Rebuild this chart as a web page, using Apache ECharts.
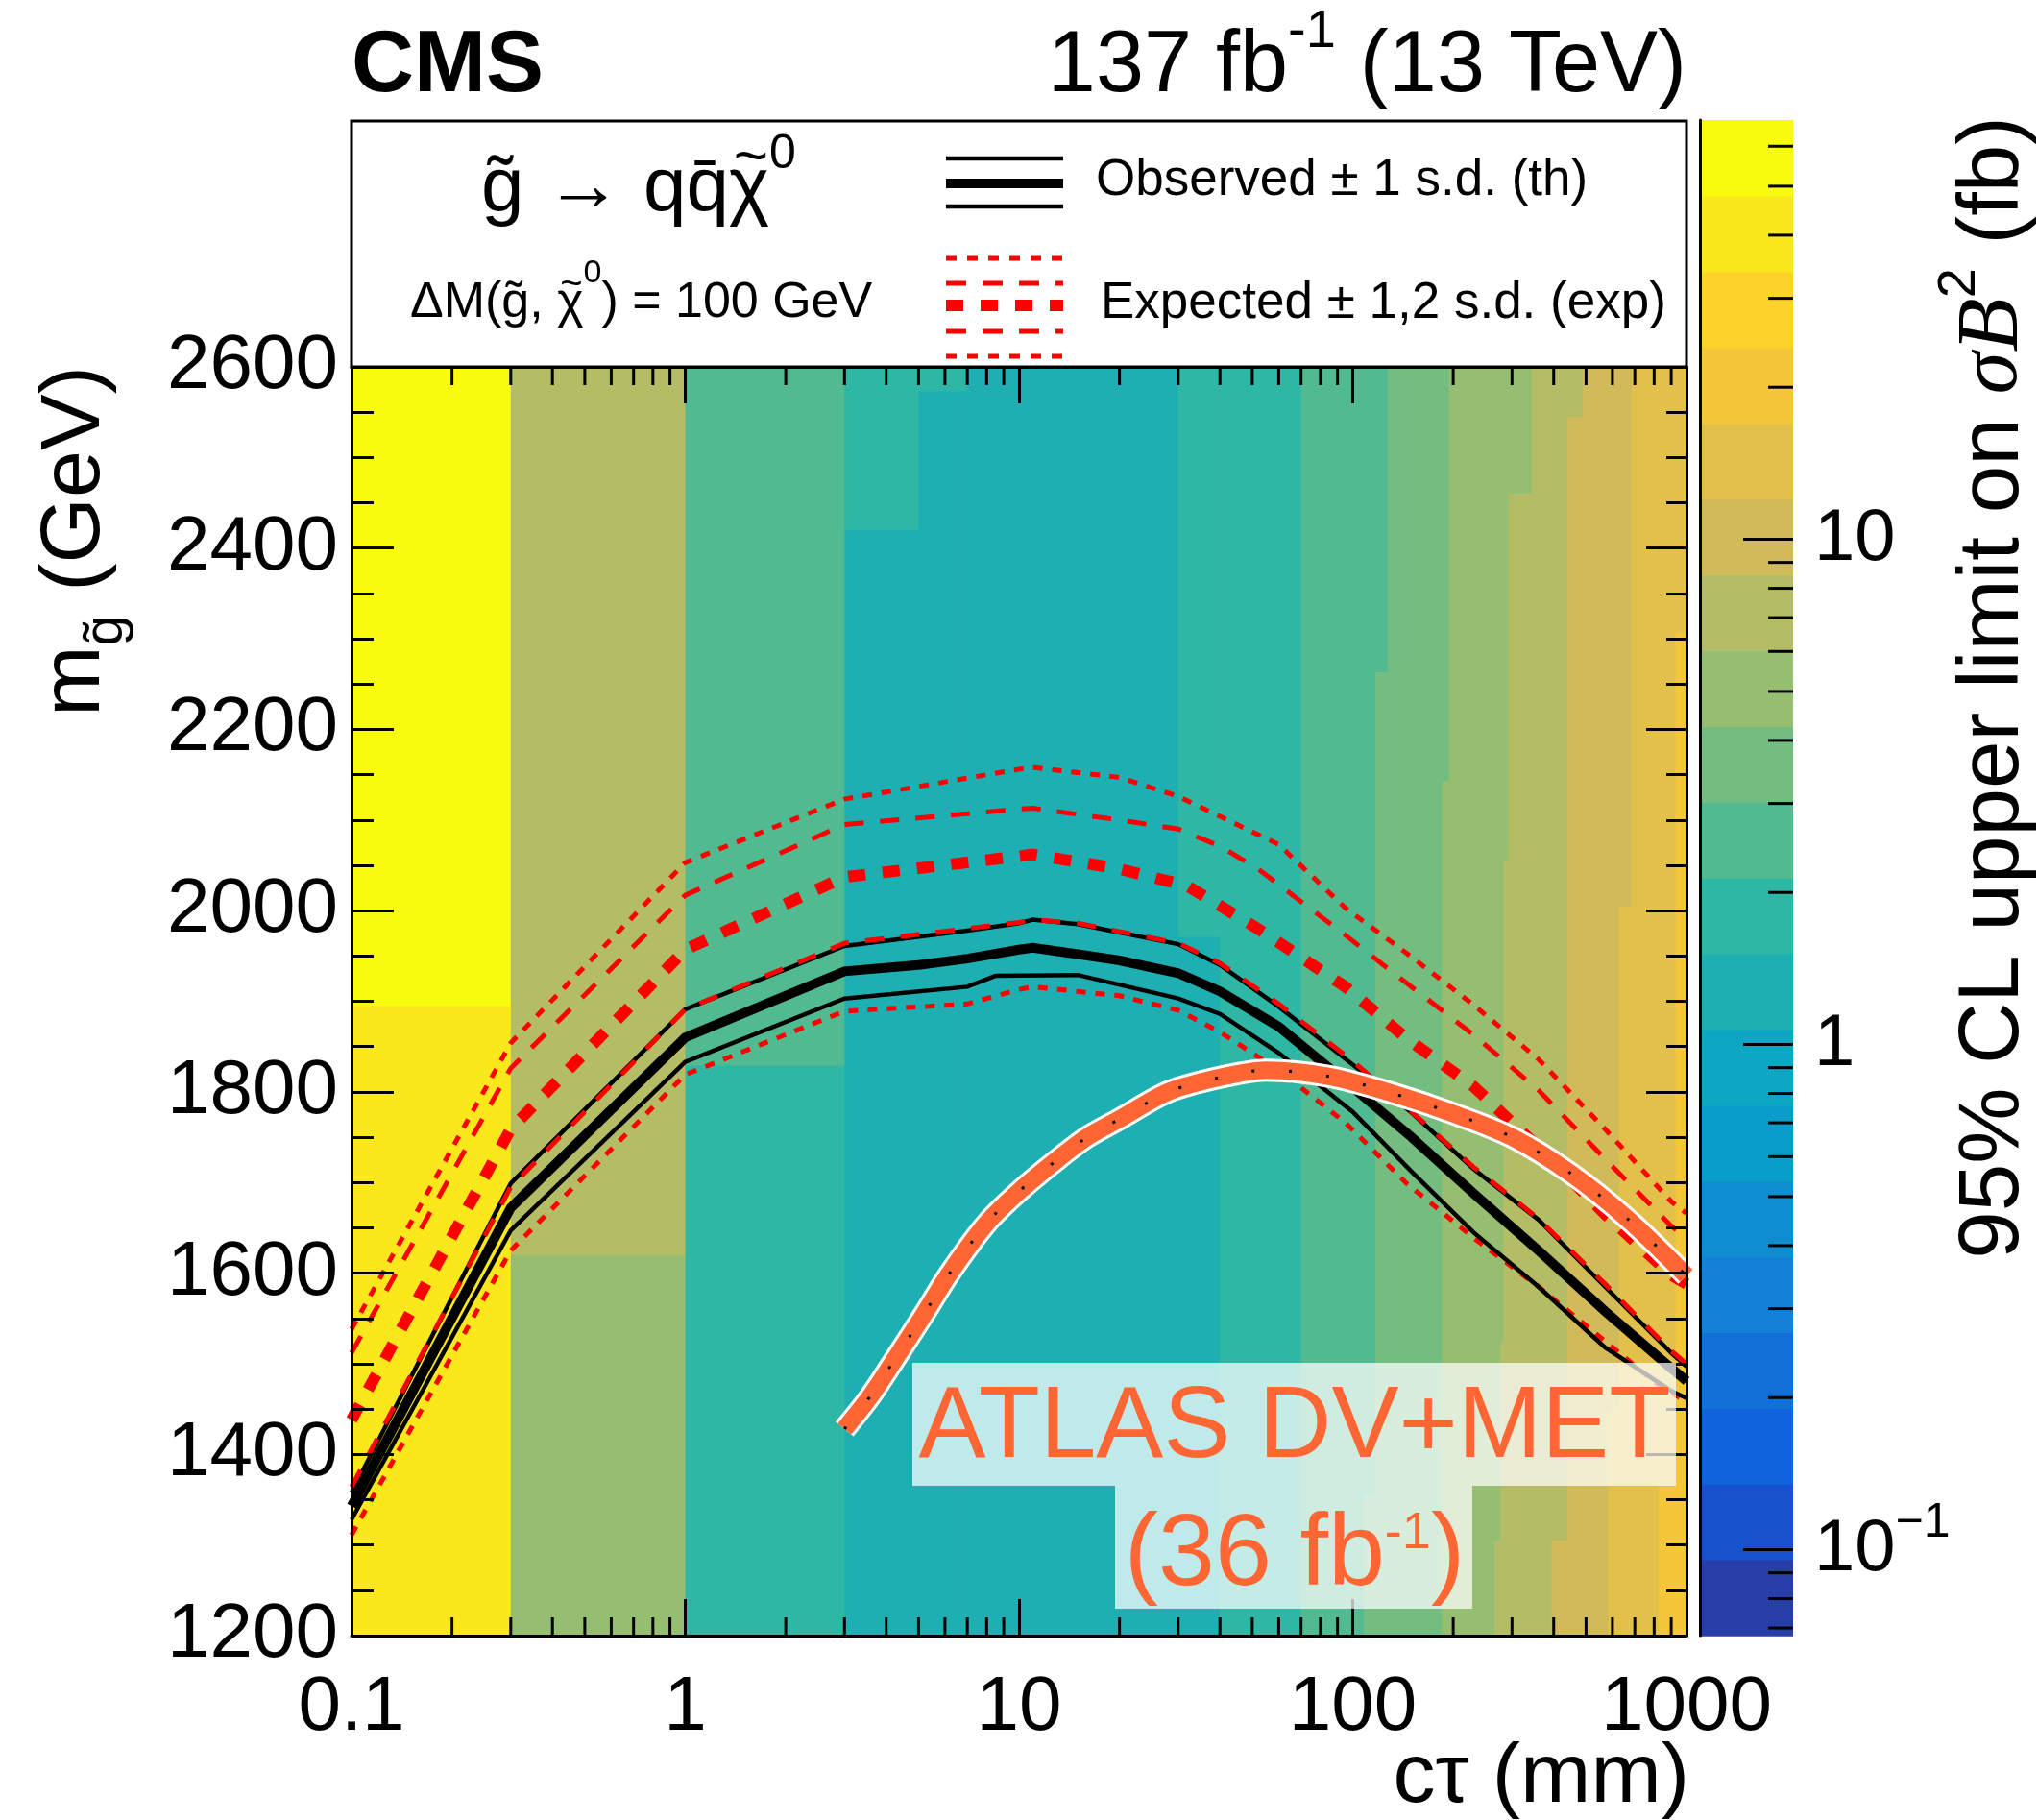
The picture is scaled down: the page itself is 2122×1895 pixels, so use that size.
<!DOCTYPE html>
<html><head><meta charset="utf-8">
<script src="https://cdn.jsdelivr.net/npm/echarts@6/dist/echarts.min.js"></script>
<style>html,body{margin:0;padding:0;background:#fff}#c{width:2122px;height:1895px}</style>
</head><body><div id="c"></div>
<script>
// ---------- data ----------
const ctauTickLabels = [0.1, 1, 10, 100, 1000];
const massTickLabels = [1200, 1400, 1600, 1800, 2000, 2200, 2400, 2600];
const ctauMinorTicks = [0.2,0.3,0.4,0.5,0.6,0.7,0.8,0.9,2,3,4,5,6,7,8,9,20,30,40,50,60,70,80,90,200,300,400,500,600,700,800,900];
const zMajorTicks = [0.1, 1, 10];
const zMinorTicks = [0.07,0.08,0.09,0.2,0.3,0.4,0.5,0.6,0.7,0.8,0.9,2,3,4,5,6,7,8,9,20,30,40,50,60];
// heat cells: [ctau0, ctau1, mass0, mass1, limit (fb)]
const heatCells = [
 [0.1,0.3,1895,2600,57],[0.1,0.3,1200,1895,40],
 [0.3,1,1620,2600,7.2],[0.3,1,1200,1620,5.1],
 [1,3,1829,2600,2.5],[1,3,1200,1829,1.8],
 [3,5,2420,2600,1.8],[3,5,1200,2420,1.27],
 [5,7,2573,2600,1.8],[5,7,1200,2573,1.27],
 [7,30,1200,2600,1.27],
 [30,40,1971,2600,1.8],[30,40,1200,1971,1.27],
 [40,70,1200,2600,1.8],
 [70,127,2263,2600,2.5],[70,117,1355,2263,2.5],[70,108,1200,1355,2.5],
 [127,194,2263,2600,3.6],[117,194,2143,2263,3.6],[117,185,1355,2143,3.6],[108,185,1200,1355,3.6],
 [194,343,2460,2600,5.1],[194,293,2143,2460,5.1],[185,293,2056,2143,5.1],[185,283,1524,2056,5.1],[185,277,1305,1524,5.1],[185,266,1200,1305,5.1],
 [343,489,2545,2600,7.2],[343,439,2460,2545,7.2],[293,439,2056,2460,7.2],[283,439,1524,2056,7.2],[277,439,1305,1524,7.2],[266,394,1200,1305,7.2],
 [489,686,2545,2600,10.1],[439,686,2004,2545,10.1],[439,628,1450,2004,10.1],[439,583,1305,1450,10.1],[394,583,1200,1305,10.1],
 [686,1000,2307,2600,14.3],[686,927,2004,2307,14.3],[628,927,1450,2004,14.3],[583,927,1366,1450,14.3],[583,825,1200,1366,14.3],
 [927,1000,1366,2307,20.2],[825,1000,1200,1366,20.2]
];
const obsLine = [[0.1,1343],[0.3,1672],[1,1860],[3,1933],[5,1940],[7,1947],[10,1957],[11,1959],[15,1952],[20,1945],[30,1931],[40,1911],[60,1872],[100,1805],[150,1750],[230,1688],[360,1625],[570,1558],[900,1495],[1000,1481]];
const obsUp = [[0.1,1358],[0.3,1699],[1,1891],[3,1961],[7,1978],[10,1986],[11,1990],[15,1985],[30,1963],[40,1940],[60,1894],[100,1830],[150,1777],[230,1715],[360,1659],[570,1585],[900,1512],[1000,1497]];
const obsDown = [[0.1,1328],[0.3,1647],[1,1833],[3,1903],[7,1916],[8.5,1928],[15,1929],[30,1903],[40,1886],[60,1843],[100,1778],[150,1712],[230,1645],[360,1585],[570,1518],[900,1470],[1000,1462]];
const expLine = [[0.1,1438],[0.3,1759],[1,1957],[3,2037],[10,2060],[11,2062],[20,2046],[32,2027],[52,1980],[95,1916],[145,1859],[230,1806],[360,1739],[570,1665],[900,1598],[1000,1588]];
const expUp1 = [[0.1,1512],[0.3,1826],[1,2017],[3,2095],[10,2112],[11,2113],[20,2100],[30,2090],[40,2071],[52,2046],[95,1973],[145,1920],[230,1863],[360,1802],[570,1726],[900,1652],[1000,1639]];
const expUp2 = [[0.1,1538],[0.3,1854],[1,2053],[3,2123],[10,2156],[11,2158],[20,2147],[30,2126],[40,2104],[60,2073],[95,2003],[145,1953],[230,1896],[360,1836],[570,1759],[900,1679],[1000,1666]];
const expDn1 = [[0.1,1364],[0.3,1695],[1,1891],[3,1964],[10,1987],[11,1990],[15,1986],[30,1964],[40,1942],[60,1897],[100,1834],[150,1778],[230,1717],[360,1660],[570,1588],[900,1514],[1000,1500]];
const expDn2 = [[0.1,1311],[0.3,1625],[1,1819],[3,1889],[7,1897],[10,1913],[11,1916],[20,1906],[30,1890],[40,1866],[60,1824],[95,1766],[145,1699],[230,1639],[360,1585],[570,1525],[800,1480],[1000,1458]];
const atlasLine = [[3,1428],[3.6,1465],[4.3,1508],[5.2,1555],[6.2,1600],[8,1655],[10,1690],[13,1725],[16,1750],[20,1770],[28,1800],[40,1816],[55,1824],[85,1817],[130,1799],[200,1776],[300,1750],[450,1710],[670,1659],[1000,1597]];

// ---------- palette (ROOT kBird, 20 contours, log z) ----------
const LMIN = -1.17, NB = 20, STEP = 0.15;
const bS=[0,.125,.25,.375,.5,.625,.75,.875,1];
const bR=[0.2082,0.0592,0.0780,0.0232,0.1802,0.5301,0.8186,0.9956,0.9764];
const bG=[0.1664,0.3599,0.5041,0.6419,0.7178,0.7492,0.7328,0.7862,0.9832];
const bB=[0.5293,0.8684,0.8385,0.7914,0.6425,0.4662,0.3499,0.1968,0.0539];
function bird(f){let k=0;while(k<bS.length-2&&f>bS[k+1])k++;const t=(f-bS[k])/(bS[k+1]-bS[k]);
 const c=a=>Math.round(255*(a[k]+t*(a[k+1]-a[k])));return 'rgb('+c(bR)+','+c(bG)+','+c(bB)+')';}
function bandColor(i){return bird(Math.min(254,Math.floor((i+0.99)*255/NB))/254);}
function valueColor(v){let i=Math.floor((Math.log10(v)-LMIN)/STEP);i=Math.max(0,Math.min(NB-1,i));return bandColor(i);}
const bandData=[];for(let i=0;i<NB;i++)bandData.push([0,1,Math.pow(10,LMIN+i*STEP),Math.pow(10,LMIN+(i+1)*STEP),i]);

const FF="'Liberation Sans', Arial, Helvetica, sans-serif";
const mctx=document.createElement('canvas').getContext('2d');
function tw(s,size){mctx.font=size+'px '+FF;return mctx.measureText(s).width;}

// positions of the chi glyphs that carry a tilde
const P1x=501, P1pre='g\u0303 \u2192 qq\u0304';
const chi1x=P1x+tw(P1pre,80), chi1w=tw('\u03c7',80);
const P2x=427, P2pre='\u0394M(g\u0303, ';
const chi2x=P2x+tw(P2pre,52), chi2w=tw('\u03c7',52);

const chart = echarts.init(document.getElementById('c'), null, {renderer:'canvas'});
const axBase = {z:10, splitLine:{show:false}, axisLine:{show:true,lineStyle:{color:'#000',width:3}}};
function lineS(data, color, width, dash, z){return {type:'line',data:data,xAxisIndex:0,yAxisIndex:0,showSymbol:false,symbol:'none',
 z:z||3,silent:true,lineStyle:{color:color,width:width,type:dash||'solid',cap:'butt',join:'miter'}};}

const option = {
 animation:false, backgroundColor:'#fff',
 grid:[{left:366,right:366,top:382,bottom:192,show:false},{left:1770,right:255,top:125,bottom:192,show:false}],
 xAxis:[
  Object.assign({},axBase,{type:'log',logBase:10,min:0.1,max:1000,gridIndex:0,position:'bottom',
   axisTick:{show:true,inside:true,length:38,lineStyle:{color:'#000',width:3}},
   axisLabel:{show:true,margin:36,fontSize:80,fontFamily:FF,color:'#000',
    formatter:v=>{const r=+(+v).toPrecision(6);return ctauTickLabels.indexOf(r)>=0?String(r):'';}}}),
  Object.assign({},axBase,{type:'log',logBase:10,min:0.1,max:1000,gridIndex:0,position:'top',
   axisTick:{show:true,inside:true,length:38,lineStyle:{color:'#000',width:3}},axisLabel:{show:false}}),
  {type:'value',min:0,max:1,gridIndex:1,show:false}
 ],
 yAxis:[
  Object.assign({},axBase,{type:'value',min:1200,max:2600,interval:200,gridIndex:0,position:'left',
   axisTick:{show:true,inside:true,length:44,lineStyle:{color:'#000',width:3}},
   minorTick:{show:true,splitNumber:4,length:23,lineStyle:{color:'#000',width:3}},
   axisLabel:{show:true,margin:14,fontSize:80,fontFamily:FF,color:'#000',
    formatter:v=>massTickLabels.indexOf(+v)>=0?String(v):''}}),
  Object.assign({},axBase,{type:'value',min:1200,max:2600,interval:200,gridIndex:0,position:'right',
   axisTick:{show:true,inside:true,length:42,lineStyle:{color:'#000',width:3}},
   minorTick:{show:true,splitNumber:4,length:21,lineStyle:{color:'#000',width:3}},axisLabel:{show:false}}),
  Object.assign({},axBase,{type:'log',logBase:10,min:Math.pow(10,LMIN),max:Math.pow(10,LMIN+NB*STEP),gridIndex:1,position:'right',
   axisTick:{show:false},
   axisLabel:{show:true,margin:22,showMinLabel:false,showMaxLabel:false,fontSize:76,fontFamily:FF,color:'#000',
    formatter:v=>{const l=Math.log10(v);if(Math.abs(l-Math.round(l))>1e-6)return '';const e=Math.round(l);
     if(e===0)return '{n|1}';if(e===1)return '{n|10}';return '{n|10}{s|\u2212'+(-e)+'}';},
    rich:{n:{fontSize:76,fontFamily:FF,color:'#000'},s:{fontSize:50,fontFamily:FF,color:'#000',padding:[0,0,55,0]}}}})
 ],
 series:[
  {type:'custom',xAxisIndex:0,yAxisIndex:0,z:1,clip:true,silent:true,data:heatCells,encode:{x:[0,1],y:[2,3]},
   renderItem:(p,api)=>{const a=api.coord([api.value(0),api.value(3)]);const b=api.coord([api.value(1),api.value(2)]);
    return {type:'rect',shape:{x:a[0],y:a[1],width:b[0]-a[0]+0.7,height:b[1]-a[1]+0.7},style:{fill:valueColor(api.value(4))}};}},
  {type:'custom',xAxisIndex:0,yAxisIndex:0,z:6,clip:false,silent:true,data:ctauMinorTicks.map(v=>[v,1200]),encode:{x:0,y:1},
   renderItem:(p,api)=>{const v=api.value(0);const b=api.coord([v,1200]);const t=api.coord([v,2600]);
    const st={stroke:'#000',lineWidth:3};
    return {type:'group',children:[{type:'line',shape:{x1:b[0],y1:b[1],x2:b[0],y2:b[1]-19},style:st},
     {type:'line',shape:{x1:t[0],y1:t[1],x2:t[0],y2:t[1]+19},style:st}]};}},
  lineS(expUp2,'#ff0000',5,[10,10]),
  lineS(expDn2,'#ff0000',5,[10,10]),
  lineS(obsUp,'#000',4.5),
  lineS(obsDown,'#000',4.5),
  lineS(obsLine,'#000',10),
  lineS(expUp1,'#ff0000',5,[20,17]),
  lineS(expDn1,'#ff0000',5,[20,17]),
  lineS(expLine,'#ff0000',12,[18,18]),
  Object.assign(lineS(atlasLine,'#ffffff',24,'solid',4),{smooth:0.3}),
  Object.assign(lineS(atlasLine,'#ff6633',18,'solid',4),{smooth:0.3}),
  Object.assign(lineS(atlasLine,'#000',3,[3,36],4),{smooth:0.3}),
  {type:'custom',xAxisIndex:2,yAxisIndex:2,z:1,clip:false,silent:true,data:bandData,encode:{x:[0,1],y:[2,3]},
   renderItem:(p,api)=>{const a=api.coord([api.value(0),api.value(3)]);const b=api.coord([api.value(1),api.value(2)]);
    return {type:'rect',shape:{x:a[0],y:a[1],width:b[0]-a[0],height:b[1]-a[1]+0.7},style:{fill:bandColor(api.value(4))}};}},
  {type:'custom',xAxisIndex:2,yAxisIndex:2,z:6,clip:false,silent:true,
   data:zMajorTicks.map(v=>[1,v,52]).concat(zMinorTicks.map(v=>[1,v,26])),encode:{x:0,y:1},
   renderItem:(p,api)=>{const q=api.coord([1,api.value(1)]);const L=api.value(2);
    return {type:'line',shape:{x1:q[0],y1:q[1],x2:q[0]-L,y2:q[1]},style:{stroke:'#000',lineWidth:3}};}}
 ],
 graphic:[
  // legend box
  {type:'rect',z:100,shape:{x:366,y:126,width:1390,height:256},style:{fill:'#fff',stroke:'#000',lineWidth:3}},
  {type:'text',z:101,x:P1x,y:197,style:{text:'{m|'+P1pre+'\u03c7}{s|0}',align:'left',verticalAlign:'middle',
    rich:{m:{fontSize:80,fontFamily:FF,fill:'#000'},s:{fontSize:50,fontFamily:FF,fill:'#000',padding:[0,0,72,0]}}}},
  {type:'text',z:101,x:chi1x+chi1w/2+2,y:166,style:{text:'~',fontSize:62,fontFamily:FF,fill:'#000',align:'center',verticalAlign:'middle'}},
  {type:'text',z:101,x:P2x,y:316,style:{text:'{m|'+P2pre+'\u03c7}{s|0}{m|) = 100 GeV}',align:'left',verticalAlign:'middle',
    rich:{m:{fontSize:52,fontFamily:FF,fill:'#000'},s:{fontSize:34,fontFamily:FF,fill:'#000',padding:[0,0,62,0]}}}},
  {type:'text',z:101,x:chi2x+chi2w/2+1,y:297,style:{text:'~',fontSize:40,fontFamily:FF,fill:'#000',align:'center',verticalAlign:'middle'}},
  {type:'line',z:101,shape:{x1:985,y1:165,x2:1107,y2:165},style:{stroke:'#000',lineWidth:4.5}},
  {type:'line',z:101,shape:{x1:985,y1:191,x2:1107,y2:191},style:{stroke:'#000',lineWidth:10}},
  {type:'line',z:101,shape:{x1:985,y1:215,x2:1107,y2:215},style:{stroke:'#000',lineWidth:4.5}},
  {type:'line',z:101,shape:{x1:985,y1:269,x2:1107,y2:269},style:{stroke:'#f00',lineWidth:5,lineDash:[11,11]}},
  {type:'line',z:101,shape:{x1:985,y1:295,x2:1107,y2:295},style:{stroke:'#f00',lineWidth:5,lineDash:[21,17]}},
  {type:'line',z:101,shape:{x1:985,y1:318,x2:1107,y2:318},style:{stroke:'#f00',lineWidth:12,lineDash:[18,18]}},
  {type:'line',z:101,shape:{x1:985,y1:345,x2:1107,y2:345},style:{stroke:'#f00',lineWidth:5,lineDash:[21,17]}},
  {type:'line',z:101,shape:{x1:985,y1:371,x2:1107,y2:371},style:{stroke:'#f00',lineWidth:5,lineDash:[11,11]}},
  {type:'text',z:101,x:1141,y:188,style:{text:'Observed \u00b1 1 s.d. (th)',fontSize:53,fontFamily:FF,fill:'#000',align:'left',verticalAlign:'middle'}},
  {type:'text',z:101,x:1146,y:316,style:{text:'Expected \u00b1 1,2 s.d. (exp)',fontSize:53,fontFamily:FF,fill:'#000',align:'left',verticalAlign:'middle'}},
  // header
  {type:'text',z:101,x:366,y:70,style:{text:'CMS',fontSize:90,fontWeight:'bold',fontFamily:FF,fill:'#000',align:'left',verticalAlign:'middle'}},
  {type:'text',z:101,x:1756,y:70,style:{text:'{m|137 fb}{s|-1}{m| (13 TeV)}',align:'right',verticalAlign:'middle',
    rich:{m:{fontSize:90,fontFamily:FF,fill:'#000'},s:{fontSize:56,fontFamily:FF,fill:'#000',padding:[0,0,72,0]}}}},
  // axis titles
  {type:'text',z:101,x:1759,y:1852,style:{text:'c\u03c4 (mm)',fontSize:88,fontFamily:FF,fill:'#000',align:'right',verticalAlign:'middle'}},
  {type:'text',z:101,x:79,y:381,rotation:Math.PI/2,style:{text:'{m|m}{s|g\u0303}{m| (GeV)}',align:'right',verticalAlign:'middle',
    rich:{m:{fontSize:88,fontFamily:FF,fill:'#000'},s:{fontSize:58,fontFamily:FF,fill:'#000',padding:[63,0,0,0]}}}},
  {type:'text',z:101,x:2076,y:121,rotation:Math.PI/2,style:{text:'{m|95% CL upper limit on }{i|\u03c3}{b|B}{s|2}{m| (fb)}',align:'right',verticalAlign:'middle',
    rich:{m:{fontSize:89,fontFamily:FF,fill:'#000'},i:{fontSize:89,fontFamily:"'Liberation Serif', serif",fontStyle:'italic',fill:'#000'},
     b:{fontSize:92,fontFamily:"'Liberation Serif', serif",fontStyle:'italic',fill:'#000'},
     s:{fontSize:56,fontFamily:FF,fill:'#000',padding:[0,0,70,0]}}}},
  // ATLAS annotation
  {type:'rect',z:100,shape:{x:950,y:1419,width:795,height:128},style:{fill:'rgba(255,255,255,0.72)'}},
  {type:'rect',z:100,shape:{x:1161,y:1547,width:372,height:128},style:{fill:'rgba(255,255,255,0.72)'}},
  {type:'text',z:101,x:1348,y:1488,style:{text:'ATLAS DV+MET',fontSize:105,fontFamily:FF,fill:'#ff6633',align:'center',verticalAlign:'middle'}},
  {type:'text',z:101,x:1348,y:1621,style:{text:'{m|(36 fb}{s|-1}{m|)}',align:'center',verticalAlign:'middle',
    rich:{m:{fontSize:106,fontFamily:FF,fill:'#ff6633'},s:{fontSize:54,fontFamily:FF,fill:'#ff6633',padding:[0,0,47,0]}}}}
 ]
};
chart.setOption(option);
</script></body></html>
